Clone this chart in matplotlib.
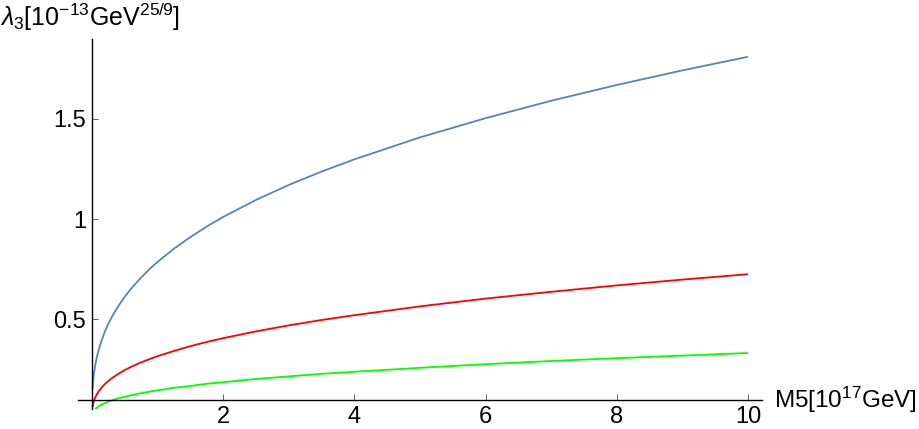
import matplotlib
matplotlib.use("Agg")
import matplotlib.pyplot as plt

plt.rcParams['font.family'] = ['Liberation Sans', 'DejaVu Sans']
plt.rcParams['mathtext.fontset'] = 'custom'
plt.rcParams['mathtext.rm'] = 'Liberation Sans'
plt.rcParams['mathtext.it'] = 'Liberation Sans:italic'

# values
m5 = [0.01, 0.02, 0.035, 0.05, 0.075, 0.1, 0.15, 0.2, 0.25, 0.3, 0.4, 0.5,
      0.6, 0.75, 0.9, 1, 1.25, 1.5, 1.75, 2, 2.5, 3, 3.5, 4, 5, 6, 7, 8, 9, 10]
blue = [0.147, 0.190, 0.232, 0.265, 0.307, 0.340, 0.394, 0.438, 0.475, 0.507,
        0.563, 0.610, 0.652, 0.707, 0.756, 0.785, 0.851, 0.909, 0.962, 1.010,
        1.095, 1.170, 1.237, 1.298, 1.408, 1.504, 1.591, 1.670, 1.743, 1.811]
red = [0.059, 0.076, 0.093, 0.106, 0.123, 0.136, 0.158, 0.175, 0.190, 0.203,
       0.225, 0.244, 0.261, 0.283, 0.302, 0.314, 0.340, 0.364, 0.385, 0.404,
       0.438, 0.468, 0.495, 0.519, 0.563, 0.602, 0.636, 0.668, 0.697, 0.724]
green = [0.027, 0.035, 0.042, 0.048, 0.056, 0.062, 0.072, 0.080, 0.087, 0.092,
         0.103, 0.111, 0.119, 0.129, 0.138, 0.143, 0.156, 0.165, 0.176, 0.184,
         0.200, 0.213, 0.226, 0.236, 0.256, 0.274, 0.290, 0.304, 0.317, 0.330]
xticks = [2, 4, 6, 8, 10]
yticks = [0.5, 1, 1.5]
ytick_labels = ['0.5', '1', '1.5']

fig = plt.figure(figsize=(9.19, 4.29), dpi=100)
ax = fig.add_axes([0.0849, 0.0466, 0.744, 0.8625])

ax.plot(m5, blue, color='#5E81B5', lw=1.3, solid_capstyle='butt')
ax.plot(m5, red, color='#FF0000', lw=1.3, solid_capstyle='butt')
ax.plot(m5, green, color='#00FF00', lw=1.3, solid_capstyle='butt')

ax.set_xlim(-0.21, 10.21)
ax.set_ylim(0.05, 1.90)

ax.spines['top'].set_visible(False)
ax.spines['right'].set_visible(False)
ax.spines['left'].set_position(('data', 0))
ax.spines['bottom'].set_position(('data', 0.095))
for s in ['left', 'bottom']:
    ax.spines[s].set_linewidth(1.0)

ax.set_xticks(xticks)
ax.set_xticklabels([str(t) for t in xticks])
ax.set_yticks(yticks)
ax.set_yticklabels(ytick_labels)
ax.tick_params(direction='in', length=4, width=0.6, labelsize=17, pad=4,
               colors='#444444', labelcolor='black')

fig.text(0.0, 0.94, r'$\lambda_3$[10$^{-13}$GeV$^{25/9}$]', fontsize=18,
         ha='left', va='baseline')
ax.text(10.4, 0.095, r'M5[10$^{17}$GeV]', fontsize=17.5, ha='left',
        va='center', clip_on=False)

fig.savefig('out.png', dpi=100)
